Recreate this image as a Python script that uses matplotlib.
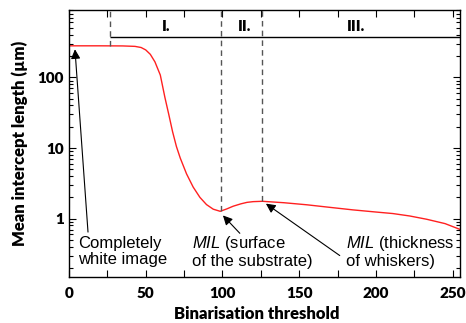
import matplotlib
matplotlib.use("Agg")
import matplotlib.pyplot as plt
import numpy as np
from matplotlib.ticker import MultipleLocator, LogLocator, NullFormatter, FixedLocator, FixedFormatter

plt.rcParams['mathtext.fontset'] = 'custom'
plt.rcParams['mathtext.it'] = 'Liberation Sans:italic'
plt.rcParams['mathtext.rm'] = 'Liberation Sans'

threshold = [0, 20, 35, 43, 47, 50, 53, 56, 59.5, 62.5, 65, 67.5, 70, 72.5, 76.6, 80.9,
             85.3, 89.6, 94, 98.5, 102.7, 107, 112, 116, 120, 126, 140, 155, 168, 185,
             200, 211, 222, 233, 245, 255]
mil = [280, 280, 279, 275, 265, 245, 212, 166, 108, 52, 30, 17, 10.5, 7.2, 4.3, 2.8,
       2.0, 1.58, 1.36, 1.27, 1.37, 1.5, 1.62, 1.70, 1.74, 1.76, 1.68, 1.57, 1.46, 1.33,
       1.24, 1.18, 1.09, 0.98, 0.85, 0.70]

boundaries = [27, 98.8, 126]
boundary_vals = [280, 1.27, 1.76]
region_labels = ["I.", "II.", "III."]
region_x = [63.5, 114.5, 187]
region_line_y = 369

x_ticks = [0, 50, 100, 150, 200, 250]
y_ticks = [1, 10, 100]

fig = plt.figure(figsize=(4.66, 3.23), dpi=100)
ax = fig.add_axes([0.148, 0.143, 0.840, 0.826])

ax.plot(threshold, mil, color='#ff2020', lw=1.0)
ax.set_yscale('log')
ax.set_xlim(0, 255)
ax.set_ylim(0.15, 900)

for b, v in zip(boundaries, boundary_vals):
    ax.vlines(b, v, 900, colors='#555555', linestyles=(0, (4, 3)), lw=1.0)
ax.hlines(region_line_y, boundaries[0], 255, colors='black', lw=1.0)
for lab, x in zip(region_labels, region_x):
    ax.text(x, 520, lab, ha='center', va='center', fontsize=11,
            fontweight='heavy', family='Lato')

ax.xaxis.set_major_locator(FixedLocator(x_ticks))
ax.xaxis.set_minor_locator(MultipleLocator(25))
ax.yaxis.set_major_locator(FixedLocator(y_ticks))
ax.yaxis.set_major_formatter(FixedFormatter([str(v) for v in y_ticks]))
ax.yaxis.set_minor_locator(LogLocator(base=10, subs=np.arange(2, 10)))
ax.yaxis.set_minor_formatter(NullFormatter())
ax.tick_params(which='both', direction='in', top=True, right=True)
ax.tick_params(which='major', length=5, width=0.8)
ax.tick_params(which='minor', length=3, width=0.8)
ax.tick_params(axis='x', which='minor', length=5)
ax.tick_params(axis='x', which='major', pad=7.5)
for lbl in ax.get_xticklabels() + ax.get_yticklabels():
    lbl.set_fontfamily('Lato')
    lbl.set_fontweight('heavy')
    lbl.set_fontsize(11)

ax.set_xlabel("Binarisation threshold", family='Lato', fontweight='heavy', fontsize=12,
              labelpad=4, x=0.479)
ax.set_ylabel("Mean intercept length (\u00b5m)", family='Lato', fontweight='heavy', fontsize=12, labelpad=7)

for s in ax.spines.values():
    s.set_linewidth(1.0)

ann_font = dict(family='Liberation Sans', fontsize=12, va='center', ha='left', linespacing=1.1)
arrow = dict(arrowstyle='-|>', color='black', lw=0.8, mutation_scale=14, shrinkA=0, shrinkB=0)
ax.annotate("", xy=(3.9, 250), xytext=(12.4, 0.645), arrowprops=arrow)
ax.annotate("", xy=(100.3, 1.11), xytext=(111.3, 0.62), arrowprops=arrow)
ax.annotate("", xy=(128.3, 1.63), xytext=(176.4, 0.30), arrowprops=arrow)
ax.text(5.7, 0.34, "Completely\nwhite image", **ann_font)
ax.text(79.9, 0.34, "$\\mathit{MIL}$ (surface\nof the substrate)", **ann_font)
ax.text(180.5, 0.34, "$\\mathit{MIL}$ (thickness\nof whiskers)", **ann_font)

fig.savefig("out.png", dpi=100)
